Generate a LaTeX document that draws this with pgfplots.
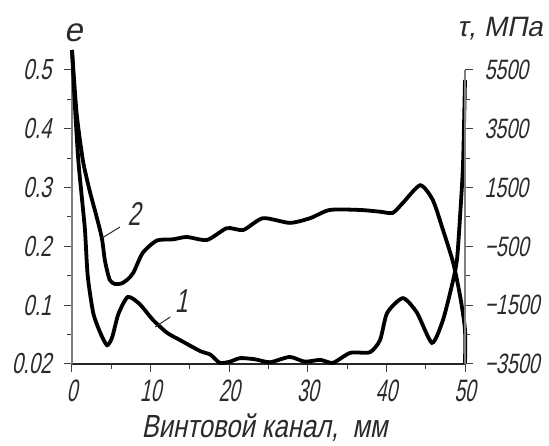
\documentclass[border=0pt]{standalone}
\usepackage{fontspec}
\setmainfont{Liberation Sans}[FakeSlant=0.2]
\newfontfamily\tickfont{Liberation Sans}[FakeSlant=0.2,FakeStretch=0.7]
\newfontfamily\xtickfont{Liberation Sans}[FakeSlant=0.2,FakeStretch=0.62]
\newfontfamily\labfont{Liberation Sans}[FakeSlant=0.2,FakeStretch=0.8]
\usepackage{pgfplots}
\pgfplotsset{compat=1.18}
\definecolor{txt}{HTML}{2A2A2A}
\begin{document}
\begin{tikzpicture}
\begin{axis}[
 scale only axis, width=393pt, height=294pt,
 xmin=0, xmax=50, ymin=0, ymax=0.5,
 clip=false,
 axis x line*=bottom, axis y line*=left,
 axis line style={-},
 x axis line style={black!85, line width=1.1pt},
 y axis line style={gray, line width=1.1pt},
 tick align=outside,
 major tick length=8pt, minor tick length=5pt,
 tick style={black!75, line width=1pt},
 xtick={0,10,20,30,40,50}, xticklabels={0,10,20,30,40,50},
 minor xtick={5,15,25,35,45},
 ytick={0,0.1,0.2,0.3,0.4,0.5}, yticklabels={0.02,0.1,0.2,0.3,0.4,0.5},
 minor ytick={0.05,0.15,0.25,0.35,0.45},
 xticklabel style={font=\xtickfont\fontsize{31}{31}\selectfont, text=txt, yshift=-4pt},
 yticklabel style={font=\tickfont\fontsize{29}{29}\selectfont, text=txt, xshift=-9pt},
 xlabel={Винтовой канал,\ \ мм},
 xlabel style={at={(axis description cs:0.49,0)}, anchor=base, yshift=-74pt, font=\labfont\fontsize{32}{32}\selectfont, text=txt},
]
\addplot[black, line width=3.8pt, smooth, tension=0.4] coordinates {
(0,0.534) (0.4,0.432) (0.8,0.347) (1.2,0.290) (1.65,0.228) (2.0,0.150)
(2.7,0.087) (3.6,0.053) (4.45,0.032) (5.1,0.045) (5.9,0.085) (7.1,0.114)
(8.6,0.102) (10.3,0.075) (12.1,0.053) (13.7,0.041) (16.3,0.022) (17.6,0.016)
(18.8,0.002) (20.1,0.004) (21.4,0.010) (23.3,0.008) (25.2,0.003) (27.7,0.012)
(29.6,0.004) (31.6,0.007) (33.2,0.002) (35.4,0.019) (37.9,0.020) (39.2,0.041)
(40.1,0.087) (42.1,0.112) (43.9,0.087) (45.8,0.036) (47.2,0.075) (48.5,0.143)
(49.0,0.180) (49.4,0.257) (49.75,0.340) (50,0.483)
};
\addplot[black, line width=3.8pt, smooth, tension=0.4] coordinates {
(0,0.534) (0.6,0.425) (1.4,0.345) (2.3,0.292) (3.1,0.252) (3.8,0.214)
(4.2,0.175) (4.8,0.143) (5.5,0.136) (6.3,0.137) (7.0,0.143) (7.8,0.155)
(9.0,0.189) (10.8,0.210) (12.85,0.212) (14.6,0.216) (17.2,0.211) (19.7,0.231)
(21.8,0.228) (24.3,0.248) (27.7,0.240) (30.3,0.248) (32.8,0.262) (36.6,0.262)
(39.2,0.259) (40.8,0.257) (42.1,0.274) (44.3,0.304) (45.9,0.279) (47.2,0.228)
(48.5,0.172) (49.4,0.114) (50,0.058) (50,0)
};
\draw[txt, line width=1pt] (axis cs:3.8,0.214) -- (axis cs:6.1,0.233);
\draw[txt, line width=1pt] (axis cs:10.6,0.063) -- (axis cs:12.5,0.080);
\node[font=\tickfont\fontsize{33}{33}\selectfont, text=txt] at (axis cs:7.9,0.255) {2};
\node[font=\tickfont\fontsize{33}{33}\selectfont, text=txt] at (axis cs:13.9,0.107) {1};
\node[font=\fontsize{33}{33}\selectfont, text=txt] at ([yshift=37pt]axis cs:0.15,0.5) {e};
\node[font=\fontsize{28}{28}\selectfont, text=txt] at ([yshift=41pt]axis cs:54.45,0.5) {τ,\ МПа};
\end{axis}
\begin{axis}[
 scale only axis, width=393pt, height=294pt,
 xmin=0, xmax=50, ymin=0, ymax=0.5,
 axis x line=none, axis y line*=right,
 axis line style={-, gray, line width=1.1pt},
 tick align=outside,
 major tick length=8pt, minor tick length=5pt,
 tick style={black!75, line width=1pt},
 ytick={0,0.1,0.2,0.3,0.4,0.5}, yticklabels={−3500,−1500,−500,1500,3500,5500},
 minor ytick={0.05,0.15,0.25,0.35,0.45},
 yticklabel style={font=\tickfont\fontsize{28}{28}\selectfont, text=txt, xshift=8pt},
]
\end{axis}
\pgfresetboundingbox
\path (-72pt,-82pt) rectangle (477pt,364pt);
\end{tikzpicture}
\end{document}
